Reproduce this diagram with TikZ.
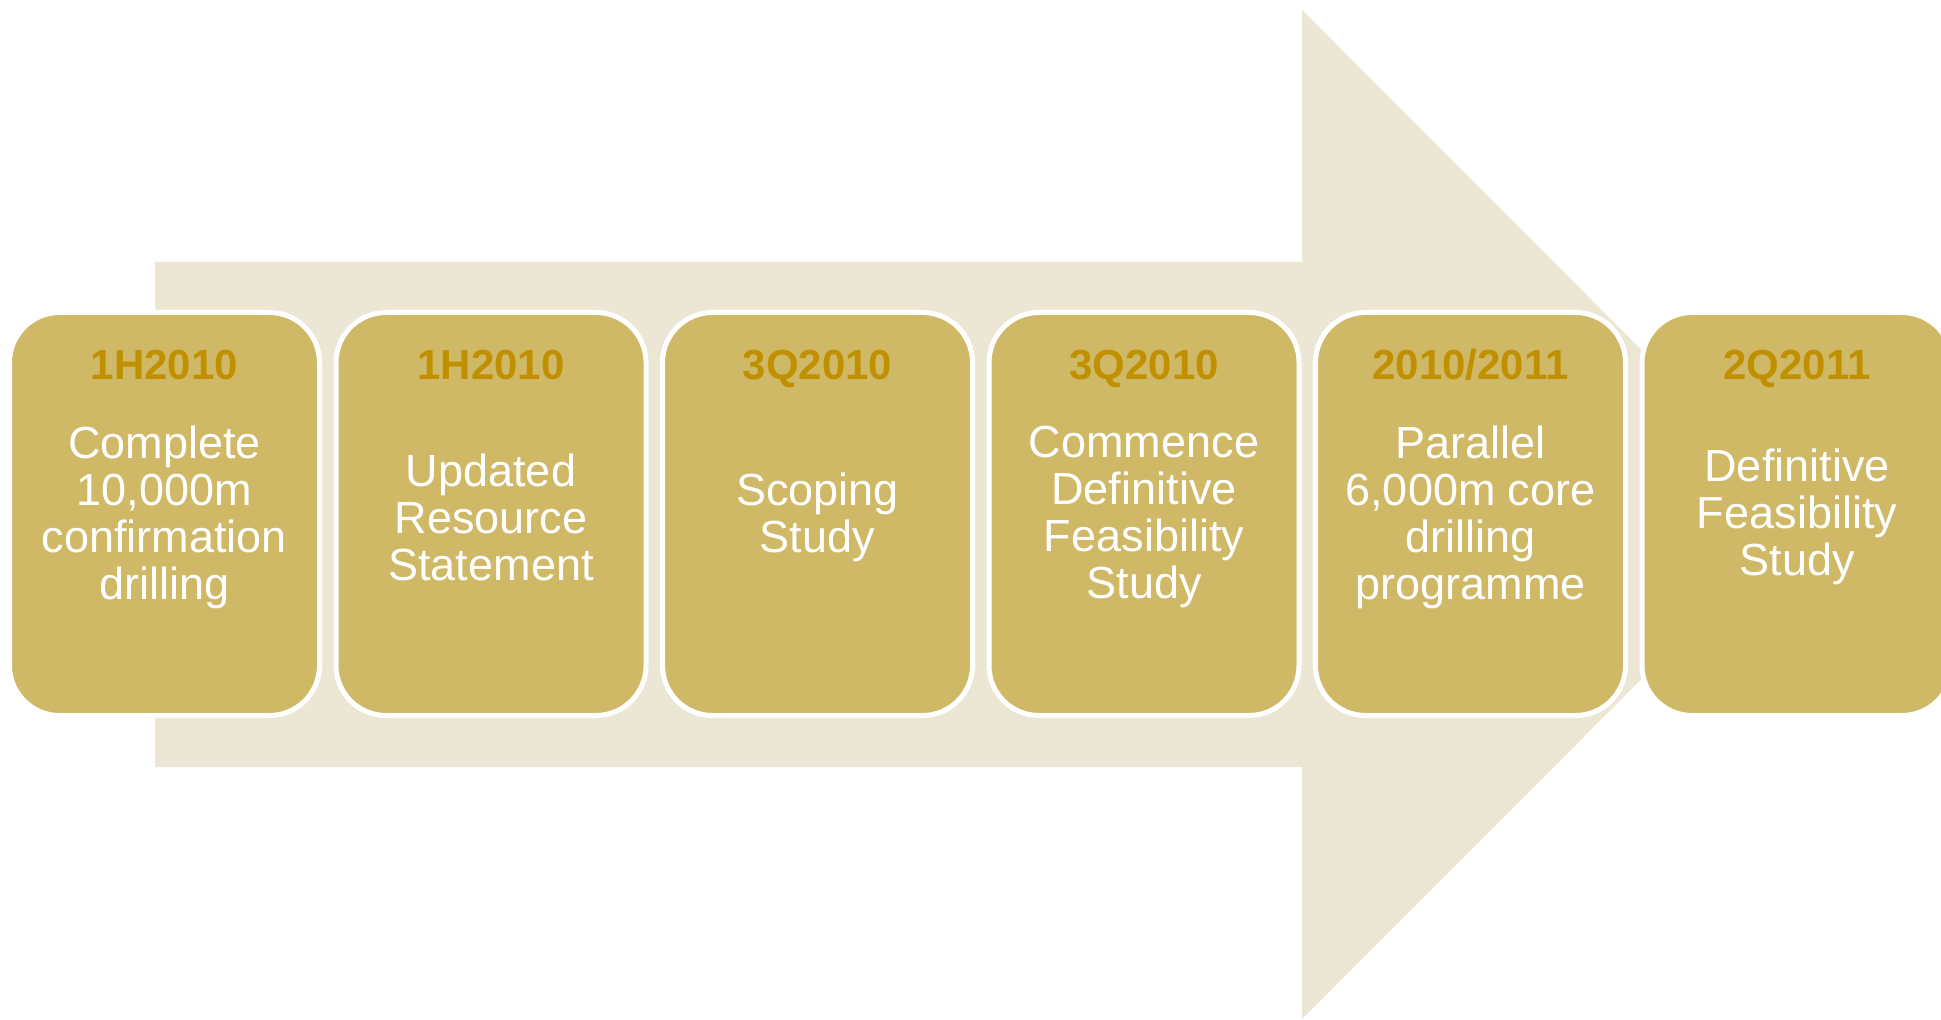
\documentclass[tikz,border=0pt]{standalone}
\usepackage{fontspec}
\setmainfont{Liberation Sans}
\definecolor{arrowbeige}{HTML}{ECE6D4}
\definecolor{boxfill}{HTML}{CFB967}
\definecolor{datecol}{HTML}{C09000}
\begin{document}
\begin{tikzpicture}[x=0.5pt,y=-0.5pt,
  stagebox/.style={draw=white, line width=2.5pt, fill=boxfill, rounded corners=25pt,
    minimum width=155pt, minimum height=201.5pt, inner sep=0pt, outer sep=0pt},
  datelabel/.style={anchor=base, text=datecol, font=\bfseries\fontsize{21}{25}\selectfont, inner sep=0pt},
  bodylabel/.style={anchor=center, text=white, align=center, font=\fontsize{22.5}{23.5}\selectfont, inner sep=0pt}]
\useasboundingbox (0,0) rectangle (1941,1020);
\clip (0,0) rectangle (1941,1020);
\fill[white] (0,0) rectangle (1941,1020);
% big arrow
\fill[arrowbeige] (155,262) -- (1302,262) -- (1302,10) -- (1806,514.5) -- (1302,1019) -- (1302,767) -- (155,767) -- cycle;
% boxes
\foreach \i/\d/\t in {0/1H2010/{Complete\\10,000m\\confirmation\\drilling},
                     1/1H2010/{Updated\\Resource\\Statement},
                     2/3Q2010/{Scoping\\Study},
                     3/3Q2010/{Commence\\Definitive\\Feasibility\\Study},
                     4/2010\slash 2011/{Parallel\\6,000m core\\drilling\\programme},
                     5/2Q2011/{Definitive\\Feasibility\\Study}} {
  \pgfmathsetmacro{\xc}{164.5+326.5*\i}
  \node[stagebox] (box\i) at (\xc,514) {};
  \node[datelabel] (date\i) at (\xc,380) {\d};
  \node[bodylabel] (body\i) at (\xc,517) {\t};
}
\end{tikzpicture}
\end{document}
